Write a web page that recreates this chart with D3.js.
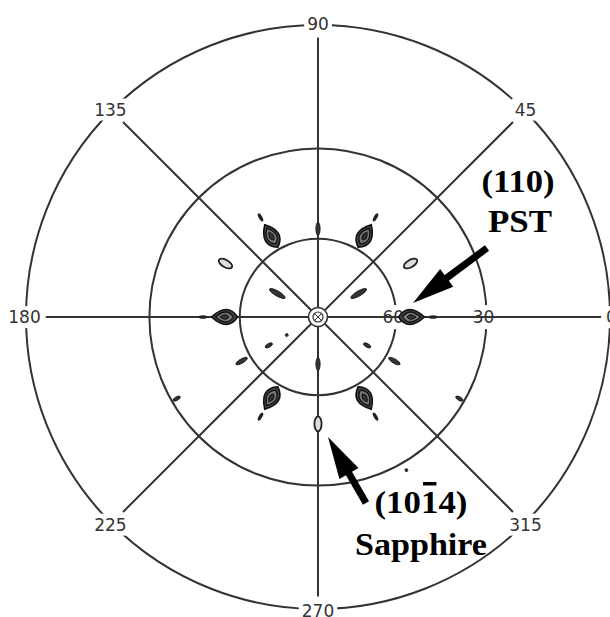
<!DOCTYPE html>
<html>
<head>
<meta charset="utf-8">
<script src="https://cdn.jsdelivr.net/npm/d3@7"></script>
<style>
  html, body { margin: 0; padding: 0; background: #fff; }
  svg { display: block; }
</style>
</head>
<body>
<svg></svg>
<script>
const svgWidth = 610
const svgHeight = 617
const center = { x: 318, y: 317 }
const outerRadius = 292

// azimuth (phi) labels, degrees counter-clockwise from the right
const phiTicks = [0, 45, 90, 135, 180, 225, 270, 315]
// tilt (chi) rings, labelled; the rim is chi = 0, the centre chi = 90
const chiRings = [60, 30]

// (110) PST poles
const pstPhi = [0, 60, 120, 180, 240, 300]
const pstChi = [54.5, 54.5, 54.5, 54.5, 54.5, 54.5]
// weak tails just outside the PST poles
const tailPhi = [0, 60, 120, 180, 240, 300]
const tailChi = [47, 47, 47, 47, 47, 47]
// (10-14) sapphire poles
const sapphirePhi = [30, 150, 270]
const sapphireChi = [49.8, 49.8, 49.8]
// minor spots, with a rough intensity level 1..4
const minorPhi = [90, 210, 330, 30, 150, 270, 210, 330, 210, 330, 210, 300]
const minorChi = [56.4, 56.4, 56.4, 71.7, 71.7, 71.7, 68, 68, 75.9, 31.6, 31.6, 27.6]
const minorLevel = [3, 3, 3, 4, 4, 3, 2, 2, 1, 2, 2, 1]

const ink = "#333"

const svg = d3.select("svg")
  .attr("width", svgWidth)
  .attr("height", svgHeight)

// stereographic radial scale
const rScale = d3.scaleLinear().domain([0, 1]).range([0, outerRadius])
const radiusOf = (chi) => rScale(Math.tan((90 - chi) * Math.PI / 360))
const angleScale = d3.scaleLinear().domain([0, 360]).range([0, 2 * Math.PI])
const px = (phi, r) => center.x + r * Math.cos(angleScale(phi))
const py = (phi, r) => center.y - r * Math.sin(angleScale(phi))

const lens = (L, W, skew) =>
  `M${-L / 2},0 Q${skew * L},${-W} ${L / 2},0 Q${skew * L},${W} ${-L / 2},0Z`

const gridGroup = svg.append("g")

// rings
gridGroup.selectAll(".ring")
  .data([0].concat(chiRings))
  .enter()
  .append("circle")
  .attr("cx", center.x)
  .attr("cy", center.y)
  .attr("r", (d) => radiusOf(d))
  .attr("fill", "none")
  .attr("stroke", ink)
  .attr("stroke-width", 2)

// rim labels, measured so spokes can stop before them
const labelRadius = radiusOf(0) + 1.5
const rimLabels = svg.append("g")
rimLabels.selectAll("text")
  .data(phiTicks)
  .enter()
  .append("text")
  .attr("x", (d) => px(d, labelRadius))
  .attr("y", (d) => py(d, labelRadius))
  .attr("dy", "0.36em")
  .attr("text-anchor", "middle")
  .attr("font-family", "DejaVu Sans")
  .attr("font-size", 17)
  .attr("fill", ink)
  .text((d) => d)

const rimBoxes = []
rimLabels.selectAll("text").each(function () {
  rimBoxes.push(this.getBBox())
})

// white patches breaking the rim behind labels
rimBoxes.forEach((b) => {
  gridGroup.append("rect")
    .attr("x", b.x - 3).attr("y", b.y - 1)
    .attr("width", b.width + 6).attr("height", b.height + 2)
    .attr("fill", "#fff")
})

// ring labels at phi = 0
const ringLabels = svg.append("g")
ringLabels.selectAll("text")
  .data(chiRings)
  .enter()
  .append("text")
  .attr("x", (d) => px(0, radiusOf(d) - 3))
  .attr("y", (d) => py(0, radiusOf(d)))
  .attr("dy", "0.36em")
  .attr("text-anchor", "middle")
  .attr("font-family", "DejaVu Sans")
  .attr("font-size", 17)
  .attr("fill", ink)
  .text((d) => d)

ringLabels.selectAll("text").each(function () {
  const b = this.getBBox()
  gridGroup.append("rect")
    .attr("x", b.x).attr("y", b.y - 2)
    .attr("width", b.width).attr("height", b.height + 4)
    .attr("fill", "#fff")
})

// spokes, stopping short of each rim label
const spokeEnd = (d, i) => {
  const b = rimBoxes[i]
  const a = angleScale(d)
  const c = Math.abs(Math.cos(a))
  const s = Math.abs(Math.sin(a))
  const ext = Math.min(
    c > 1e-6 ? (b.width / 2) / c : Infinity,
    s > 1e-6 ? (b.height / 2 - 1) / s : Infinity)
  return labelRadius - ext - 5
}
gridGroup.selectAll(".spoke")
  .data(phiTicks)
  .enter()
  .append("line")
  .attr("x1", center.x)
  .attr("y1", center.y)
  .attr("x2", (d, i) => px(d, spokeEnd(d, i)))
  .attr("y2", (d, i) => py(d, spokeEnd(d, i)))
  .attr("stroke", ink)
  .attr("stroke-width", 2)

// centre marker
gridGroup.append("circle")
  .attr("cx", center.x).attr("cy", center.y).attr("r", 9.5)
  .attr("fill", "#fff").attr("stroke", ink).attr("stroke-width", 1.6)
gridGroup.append("circle")
  .attr("cx", center.x).attr("cy", center.y).attr("r", 5)
  .attr("fill", "none").attr("stroke", ink).attr("stroke-width", 1.2)
gridGroup.append("path")
  .attr("d", `M${center.x - 3},${center.y - 3}L${center.x + 3},${center.y + 3}M${center.x + 3},${center.y - 3}L${center.x - 3},${center.y + 3}`)
  .attr("stroke", ink).attr("stroke-width", 1)

const spotGroup = svg.append("g")
const place = (phi, chi) =>
  `translate(${px(phi, radiusOf(chi))},${py(phi, radiusOf(chi))}) rotate(${-phi})`

// PST poles: nested contours
const pstLevels = [
  { L: 26, W: 15, fill: "#444", sw: 1.6 },
  { L: 18, W: 10, fill: "#777", sw: 1.3 },
  { L: 9, W: 4.5, fill: "#333", sw: 1 }
]
pstPhi.forEach((phi, i) => {
  const g = spotGroup.append("g").attr("transform", place(phi, pstChi[i]))
  pstLevels.forEach((lv) => {
    g.append("path")
      .attr("d", lens(lv.L, lv.W, -0.12))
      .attr("fill", lv.fill)
      .attr("stroke", "#111")
      .attr("stroke-width", lv.sw)
  })
})

// tails
spotGroup.selectAll(".tail")
  .data(tailPhi)
  .enter()
  .append("ellipse")
  .attr("transform", (d, i) => place(d, tailChi[i]))
  .attr("rx", 4.5).attr("ry", 1.8)
  .attr("fill", "#222")

// sapphire poles: open contours
spotGroup.selectAll(".sapphire")
  .data(sapphirePhi)
  .enter()
  .append("ellipse")
  .attr("transform", (d, i) => place(d, sapphireChi[i]))
  .attr("rx", 7.5).attr("ry", 3.6)
  .attr("fill", "#ddd")
  .attr("stroke", "#222")
  .attr("stroke-width", 1.8)

// minor spots
const lenScale = d3.scaleLinear().domain([1, 4]).range([3, 18])
const widScale = d3.scaleLinear().domain([1, 4]).range([2.8, 5])
spotGroup.selectAll(".minor")
  .data(minorPhi)
  .enter()
  .append("ellipse")
  .attr("transform", (d, i) => place(d, minorChi[i]))
  .attr("rx", (d, i) => lenScale(minorLevel[i]) / 2)
  .attr("ry", (d, i) => widScale(minorLevel[i]) / 2)
  .attr("fill", "#333")
  .attr("stroke", "#111")
  .attr("stroke-width", 0.8)

// annotations
const arrows = [
  { tip: [413, 303], tail: [487, 248] },
  { tip: [328, 437], tail: [366, 503] }
]
const headLength = 42
const headWidth = 22
arrows.forEach((a) => {
  const dx = a.tip[0] - a.tail[0]
  const dy = a.tip[1] - a.tail[1]
  const len = Math.hypot(dx, dy)
  const ux = dx / len
  const uy = dy / len
  const bx = a.tip[0] - ux * headLength
  const by = a.tip[1] - uy * headLength
  svg.append("line")
    .attr("x1", a.tail[0]).attr("y1", a.tail[1])
    .attr("x2", bx + ux * 2).attr("y2", by + uy * 2)
    .attr("stroke", "#000").attr("stroke-width", 7)
  svg.append("path")
    .attr("d", `M${a.tip[0]},${a.tip[1]}L${bx - uy * headWidth / 2},${by + ux * headWidth / 2}L${bx + uy * headWidth / 2},${by - ux * headWidth / 2}Z`)
    .attr("fill", "#000")
})

const notes = [
  { text: "(110)", x: 518, y: 192, len: 73 },
  { text: "PST", x: 520, y: 232, len: 64 },
  { text: "(1014)", x: 421, y: 513, len: 93, bar: 3 },
  { text: "Sapphire", x: 421, y: 555, len: 132 }
]
notes.forEach((n) => {
  const t = svg.append("text")
    .attr("x", n.x)
    .attr("y", n.y)
    .attr("text-anchor", "middle")
    .attr("font-family", "Liberation Serif")
    .attr("font-weight", "bold")
    .attr("font-size", 31)
    .attr("textLength", n.len)
    .attr("lengthAdjust", "spacingAndGlyphs")
    .attr("fill", "#000")
    .text(n.text)
  if (n.bar !== undefined) {
    const e = t.node().getExtentOfChar(n.bar)
    svg.append("rect")
      .attr("x", e.x + 2)
      .attr("y", n.y - 31)
      .attr("width", e.width - 4)
      .attr("height", 3.5)
      .attr("fill", "#000")
  }
})
</script>
</body>
</html>
